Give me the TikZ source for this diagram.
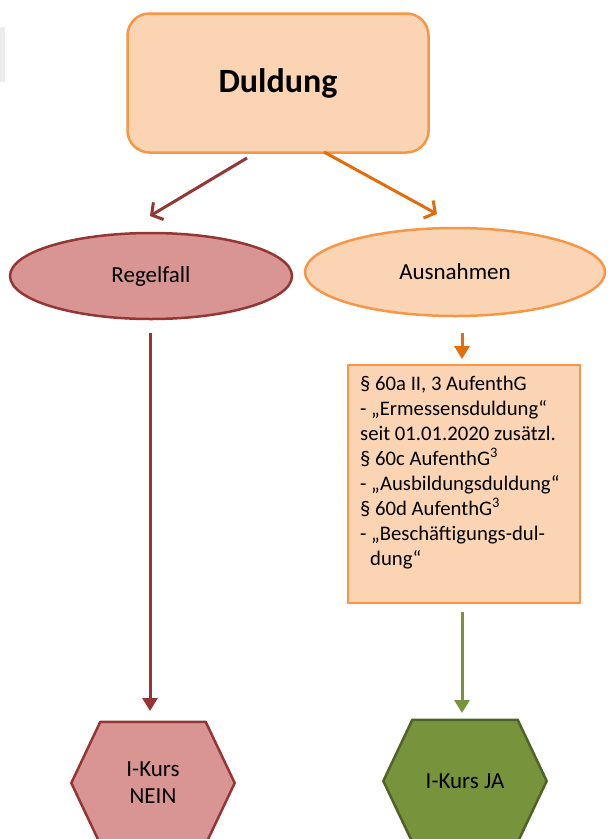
\documentclass[tikz,border=0pt]{standalone}
\usepackage{fontspec}
\setmainfont{Carlito}
\usetikzlibrary{shapes.geometric,arrows.meta,calc}
\definecolor{peach}{HTML}{FBD4B4}
\definecolor{orangeline}{HTML}{F79646}
\definecolor{orangearrow}{HTML}{E46C0A}
\definecolor{rosefill}{HTML}{D99594}
\definecolor{redline}{HTML}{943634}
\definecolor{greenfill}{HTML}{77933C}
\definecolor{greenline}{HTML}{4F6228}
\tikzset{
  topbox/.style={draw=orangeline, fill=peach, line width=2.5pt, rounded corners=22pt,
    minimum width=301pt, minimum height=139pt, font=\fontsize{34}{40}\selectfont\bfseries},
  ellred/.style={ellipse, draw=redline, fill=rosefill, line width=2.5pt,
    minimum width=282pt, minimum height=86pt, font=\fontsize{23}{27}\selectfont},
  ellorange/.style={ellipse, draw=orangeline, fill=peach, line width=2.5pt,
    minimum width=300pt, minimum height=88pt, font=\fontsize{23}{27}\selectfont},
  textbox/.style={draw=orangeline, fill=peach, line width=2.5pt, minimum width=232pt,
    minimum height=238pt, inner sep=0pt},
  boxtext/.style={anchor=base west, align=left, inner sep=0pt,
    font=\fontsize{20.7}{25}\selectfont},
  hexnode/.style={minimum width=163pt, minimum height=122pt, inner sep=0pt,
    font=\fontsize{23}{27}\selectfont, align=center},
  hexred/.style={draw=redline, fill=rosefill, line width=2.5pt, line join=round},
  hexgreen/.style={draw=greenline, fill=greenfill, line width=2.5pt, line join=round},
  barbred/.style={draw=redline, line width=3pt, -{Straight Barb[length=8pt,width=20pt]}},
  barborange/.style={draw=orangearrow, line width=3pt, -{Straight Barb[length=8pt,width=20pt]}},
  tipred/.style={draw=redline, line width=3pt, -{Triangle[length=13pt,width=15pt]}},
  tiporange/.style={draw=orangearrow, line width=3pt, -{Triangle[length=13pt,width=15pt]}},
  tipgreen/.style={draw=greenfill, line width=3pt, -{Triangle[length=13pt,width=15pt]}},
}
\begin{document}
\begin{tikzpicture}[x=1pt,y=-1pt]
\useasboundingbox (0,0) rectangle (614,839);
\fill[white] (0,0) rectangle (614,839);
\fill[black!7] (0,27) rectangle (5,82);

\node[topbox] (dul) at (278,83) {Duldung};
\node[ellred] (reg) at (151,276) {Regelfall};
\node[ellorange] (aus) at (455,272) {Ausnahmen};
\node[textbox] (box) at (464,484) {};
\node[boxtext] (boxt) at (360,565) {§ 60a II, 3 AufenthG\\
- „Ermessensduldung“\\
seit 01.01.2020 zusätzl.\\
§ 60c AufenthG\textsuperscript{3}\\
- „Ausbildungsduldung“\\
§ 60d AufenthG\textsuperscript{3}\\
- „Beschäftigungs-dul-\\
\hspace*{10pt}dung“};

\node[hexnode] (nein) at (153,783) {};
\draw[hexred] (nein.west) -- ($(nein.north west)+(29,0)$) -- ($(nein.north east)+(-29,0)$)
  -- (nein.east) -- ($(nein.south east)+(-29,0)$) -- ($(nein.south west)+(29,0)$) -- cycle;
\node[hexnode] (neint) at (nein.center) {I-Kurs\\NEIN};

\node[hexnode] (ja) at (465,781) {};
\draw[hexgreen] (ja.west) -- ($(ja.north west)+(29,0)$) -- ($(ja.north east)+(-29,0)$)
  -- (ja.east) -- ($(ja.south east)+(-29,0)$) -- ($(ja.south west)+(29,0)$) -- cycle;
\node[hexnode] (jat) at (ja.center) {I-Kurs JA};

\coordinate (a1s) at (247,158);
\coordinate (a1e) at (150,216);
\coordinate (a2s) at (324,152);
\coordinate (a2e) at (437,214);
\coordinate (a3s) at (150,333);
\coordinate (a3e) at (150,711);
\coordinate (a4s) at (462,333);
\coordinate (a4e) at (462,359);
\coordinate (a5s) at (462,612);
\coordinate (a5e) at (462,713);
\draw[barbred] (a1s) -- (a1e);
\draw[barborange] (a2s) -- (a2e);
\draw[tipred] (a3s) -- (a3e);
\draw[tiporange] (a4s) -- (a4e);
\draw[tipgreen] (a5s) -- (a5e);
\end{tikzpicture}
\end{document}
